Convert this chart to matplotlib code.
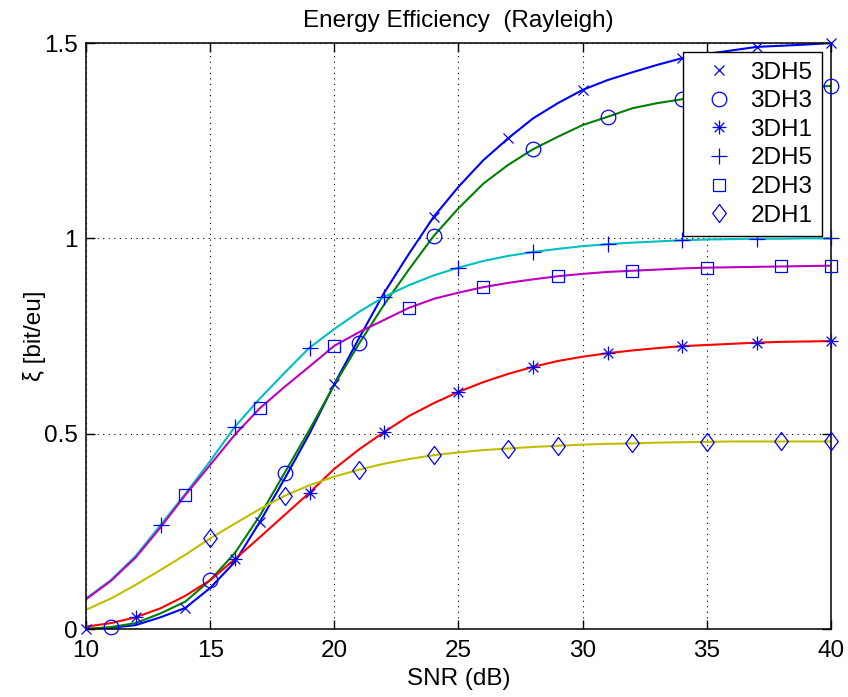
import numpy as np
import matplotlib
matplotlib.use("Agg")
import matplotlib.pyplot as plt
from matplotlib.path import Path

plt.rcParams['font.family'] = ['Liberation Sans', 'DejaVu Sans']

############################################ Data ############################################
snr = np.arange(10, 41)

eta_3dh5 = [0.0, 0.003, 0.01, 0.03, 0.054, 0.105, 0.172, 0.274, 0.385, 0.50, 0.627,
            0.745, 0.86, 0.96, 1.055, 1.132, 1.20, 1.256, 1.307, 1.346, 1.38,
            1.405, 1.425, 1.444, 1.461, 1.472, 1.481, 1.49, 1.493, 1.496, 1.50]
eta_3dh3 = [0.0, 0.005, 0.015, 0.04, 0.07, 0.125, 0.195, 0.29, 0.40, 0.51, 0.625,
            0.731, 0.83, 0.92, 1.006, 1.077, 1.14, 1.188, 1.228, 1.26, 1.29,
            1.311, 1.333, 1.346, 1.356, 1.365, 1.372, 1.378, 1.383, 1.387, 1.39]
eta_3dh1 = [0.006, 0.015, 0.03, 0.053, 0.085, 0.125, 0.179, 0.235, 0.292, 0.349, 0.41,
            0.46, 0.504, 0.545, 0.578, 0.607, 0.632, 0.653, 0.671, 0.686, 0.697,
            0.706, 0.713, 0.719, 0.724, 0.727, 0.73, 0.733, 0.735, 0.736, 0.737]
eta_2dh5 = [0.078, 0.125, 0.187, 0.266, 0.346, 0.43, 0.518, 0.59, 0.656, 0.72, 0.768,
            0.812, 0.85, 0.88, 0.905, 0.925, 0.942, 0.955, 0.965, 0.973, 0.98,
            0.985, 0.989, 0.992, 0.995, 0.997, 0.998, 0.999, 0.999, 1.0, 1.0]
eta_2dh3 = [0.076, 0.123, 0.183, 0.26, 0.343, 0.42, 0.498, 0.565, 0.62, 0.672, 0.725,
            0.76, 0.791, 0.822, 0.845, 0.861, 0.875, 0.886, 0.895, 0.903, 0.909,
            0.914, 0.917, 0.92, 0.923, 0.925, 0.926, 0.927, 0.928, 0.929, 0.93]
eta_2dh1 = [0.049, 0.078, 0.113, 0.151, 0.19, 0.232, 0.27, 0.307, 0.341, 0.368, 0.39,
            0.408, 0.423, 0.435, 0.445, 0.452, 0.458, 0.462, 0.466, 0.469, 0.472,
            0.474, 0.475, 0.477, 0.478, 0.479, 0.48, 0.48, 0.48, 0.48, 0.48]

# SNR points where the markers sit
mk_3dh5 = [10, 14, 17, 20, 24, 27, 30, 34, 37, 40]
mk_3dh3 = [11, 15, 18, 21, 24, 28, 31, 34, 37, 40]
mk_3dh1 = [12, 16, 19, 22, 25, 28, 31, 34, 37, 40]
mk_2dh5 = [13, 16, 19, 22, 25, 28, 31, 34, 37, 40]
mk_2dh3 = [14, 17, 20, 23, 26, 29, 32, 35, 38, 40]
mk_2dh1 = [15, 18, 21, 24, 27, 29, 32, 35, 38, 40]

labels = ['3DH5', '3DH3', '3DH1', '2DH5', '2DH3', '2DH1']
xticks = [10, 15, 20, 25, 30, 35, 40]
yticks = [0, 0.5, 1, 1.5]
ytick_labels = ['0', '0.5', '1', '1.5']

############################################ Markers ############################################
M, L = Path.MOVETO, Path.LINETO
asterisk = Path([(-1, 0), (1, 0), (0, -1), (0, 1), (-0.7, -0.7), (0.7, 0.7), (-0.7, 0.7), (0.7, -0.7)],
                [M, L] * 4)
diamond = Path([(0, 1), (0.75, 0), (0, -1), (-0.75, 0), (0, 1)], [M, L, L, L, Path.CLOSEPOLY])

series = [
    (eta_3dh5, mk_3dh5, (0, 0, 1), 'x', 7.5),
    (eta_3dh3, mk_3dh3, (0, 0.5, 0), 'o', 10.5),
    (eta_3dh1, mk_3dh1, (1, 0, 0), asterisk, 10),
    (eta_2dh5, mk_2dh5, (0, 0.75, 0.75), '+', 11),
    (eta_2dh3, mk_2dh3, (0.75, 0, 0.75), 's', 8.5),
    (eta_2dh1, mk_2dh1, (0.75, 0.75, 0), diamond, 13),
]

FS = 17.5

############################################ Plot ############################################
fig = plt.figure(figsize=(8.48, 6.97), dpi=100)
ax = fig.add_axes([86 / 848, 1 - 629 / 697, (831 - 86) / 848, (629 - 43) / 697])

for eta, mk, color, marker, ms in series:
    ax.plot(snr, eta, color=color, lw=1.5, zorder=2)

handles = []
for (eta, mk, color, marker, ms), label in zip(series, labels):
    h, = ax.plot(mk, np.interp(mk, snr, eta), ls='none', marker=marker, ms=ms,
                 mfc='none', mec=(0, 0, 1), mew=0.9, label=label, zorder=3, clip_on=False)
    handles.append(h)

ax.set_xlim(10, 40)
ax.set_ylim(0, 1.5)
ax.set_xticks(xticks)
ax.set_yticks(yticks)
ax.set_yticklabels(ytick_labels)
ax.tick_params(direction='in', length=6.5, width=1, top=True, right=True, labelsize=FS, pad=6)
ax.tick_params(axis='x', pad=8)
for s in ax.spines.values():
    s.set_linewidth(1.1)
ax.grid(True, color='k', linestyle=(0, (1, 4)), linewidth=0.8)

ax.set_title('Energy Efficiency  (Rayleigh)', fontsize=FS, pad=11.5)
ax.set_xlabel('SNR (dB)', fontsize=FS, labelpad=4)
ax.set_ylabel('ξ [bit/eu]', fontsize=FS, labelpad=-1.5)

leg = ax.legend(handles=handles, loc='upper right', bbox_to_anchor=(822 / 848, 1 - 52 / 697),
                bbox_transform=fig.transFigure, borderaxespad=0, fontsize=FS, fancybox=False,
                framealpha=1, edgecolor='k', labelspacing=0.27, handlelength=2.15,
                handletextpad=0.2, borderpad=0.4, numpoints=1)
leg.get_frame().set_linewidth(1.0)

fig.savefig('out.png', dpi=100)
